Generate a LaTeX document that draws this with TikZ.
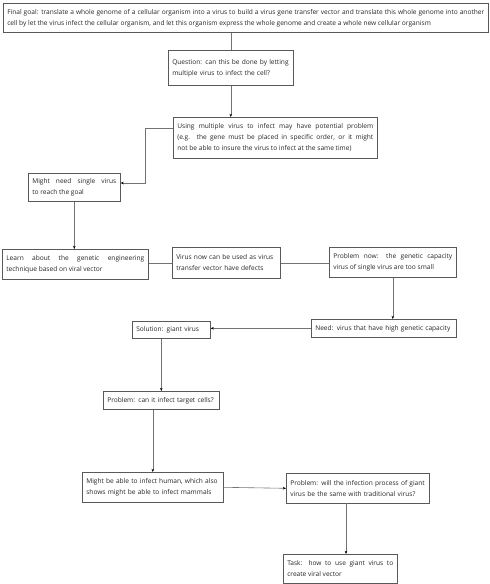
\documentclass[tikz,border=0pt]{standalone}
\usepackage{fontspec}
\setmainfont{Open Sans}
\usetikzlibrary{arrows.meta}
\hyphenpenalty=10000
\exhyphenpenalty=10000
\tikzset{
  box/.style={draw=black!65, line width=0.6pt, anchor=north west, inner xsep=4pt, inner ysep=1pt,
    font=\fontsize{6.6}{11}\selectfont, align=left, text=black!85},
  jbox/.style={box, align=justify},
  conn/.style={draw=black!55, line width=0.6pt},
  arr/.style={conn, -{Stealth[length=3.2pt,width=2.6pt,color=black]}}
}
\begin{document}
\begin{tikzpicture}[x=1pt,y=-1pt]
\useasboundingbox (0,0) rectangle (490,584);
\node[jbox, minimum width=485pt, minimum height=29pt, text width=477pt] (b1) at (3,3) {Final goal: translate a whole genome of a cellular organism into a virus to build a virus gene transfer vector and translate this whole genome into another\linebreak cell by let the virus infect the cellular organism, and let this organism express the whole genome and create a whole new cellular organism};
\node[box, minimum width=125pt, minimum height=35pt, text width=117pt] (b2) at (168,50) {Question: can this be done by letting\\multiple virus to infect the cell?};
\node[jbox, minimum width=204pt, minimum height=41pt, text width=196pt] (b3) at (173,117) {Using multiple virus to infect may have potential problem\linebreak (e.g. the gene must be placed in specific order, or it might\linebreak not be able to insure the virus to infect at the same time)};
\node[jbox, minimum width=92pt, minimum height=28pt, text width=84pt] (b4) at (28,173) {Might need single virus\linebreak to reach the goal};
\node[jbox, minimum width=146pt, minimum height=30pt, text width=138pt] (b5) at (2,249) {Learn about the genetic engineering\linebreak technique based on viral vector};
\node[box, minimum width=108pt, minimum height=31pt, text width=100pt] (b6) at (172,247) {Virus now can be used as virus\\transfer vector have defects};
\node[jbox, minimum width=127pt, minimum height=30pt, text width=119pt] (b7) at (329,247) {Problem now: the genetic capacity\linebreak virus of single virus are too small};
\node[box, minimum width=145pt, minimum height=18pt, text width=137pt] (b8) at (311,319) {Need: virus that have high genetic capacity};
\node[box, minimum width=78pt, minimum height=17pt, text width=70pt] (b9) at (132,321) {Solution: giant virus};
\node[box, minimum width=116pt, minimum height=18pt, text width=108pt] (b10) at (103,391) {Problem: can it infect target cells?};
\node[box, minimum width=141pt, minimum height=30pt, text width=133pt] (b11) at (82,472) {Might be able to infect human, which also\\shows might be able to infect mammals};
\node[box, minimum width=143pt, minimum height=30pt, text width=135pt] (b12) at (286,473) {Problem: will the infection process of giant\\virus be the same with traditional virus?};
\node[jbox, minimum width=114pt, minimum height=29pt, text width=106pt] (b13) at (283,554) {Task: how to use giant virus to\linebreak create viral vector};
\coordinate (c3a) at (145,128);
\coordinate (c3b) at (145,183);
\coordinate (c12) at (346,503);
\draw[conn] (b1.south -| b2.north) -- (b2.north);
\draw[arr] (b2.south) -- (b2.south |- b3.north);
\draw[arr] (b3.west |- c3a) -- (c3a) -- (c3b) -- (c3b -| b4.east);
\draw[arr] (b4.south) -- (b4.south |- b5.north);
\draw[conn] (b6.west) -- (b6.west -| b5.east);
\draw[conn] (b6.east) -- (b6.east -| b7.west);
\draw[arr] (b7.south) -- (b7.south |- b8.north);
\draw[arr] (b8.west) -- (b8.west -| b9.east);
\draw[arr] (b9.south -| b10.north) -- (b10.north);
\draw[arr] (b10.south -| b11.north) -- (b11.north);
\draw[arr] (b11.east) -- (b12.west);
\draw[arr] (c12) -- (c12 |- b13.north);
\end{tikzpicture}
\end{document}
